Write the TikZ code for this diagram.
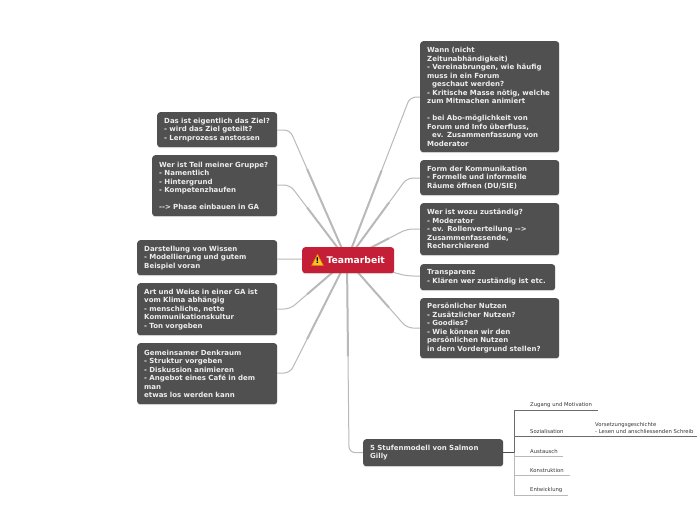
\documentclass[tikz,border=0pt]{standalone}
\usepackage{fontspec}
\setmainfont{DejaVu Sans}
\usetikzlibrary{backgrounds,shadows,calc}
\definecolor{cardgray}{HTML}{505050}
\definecolor{teamred}{HTML}{C41F36}
\definecolor{linkgray}{HTML}{B9B9B9}
\definecolor{warnyellow}{HTML}{F7C52B}
\begin{document}
\begin{tikzpicture}[x=1pt,y=-1pt,
  font=\fontsize{7}{8.5}\selectfont\bfseries,
  card/.style={rectangle, fill=cardgray, text=white!93!black, rounded corners=3pt, anchor=north west, align=left, inner xsep=7pt, inner ysep=0pt, text width=#1, drop shadow={opacity=0.22, shadow xshift=0pt, shadow yshift=-1pt}},
  team/.style={rectangle, fill=teamred, text=white, rounded corners=3pt, minimum width=92pt, minimum height=26pt, anchor=north west, font=\fontsize{9.2}{10}\selectfont\bfseries, drop shadow={opacity=0.22, shadow xshift=0pt, shadow yshift=-1pt}},
  leaf/.style={anchor=south west, inner xsep=0pt, inner ysep=2.2pt, align=left, text width=#1, text=black!80, font=\fontsize{5.3}{7.2}\selectfont},
  hubline/.style={draw=linkgray, line width=2pt},
  link/.style={draw=linkgray, line width=1pt, rounded corners=6pt},
  rule/.style={draw=gray!85!black, line width=0.7pt}
]
\useasboundingbox (0,0) rectangle (697,520);
% right side
\node[card=125pt, minimum height=111pt] (wann) at (420,41) {Wann (nicht\\Zeitunabhändigkeit)\\- Vereinabrungen, wie häufig\\muss in ein Forum\\\hspace*{5pt}geschaut werden?\\- Kritische Masse nötig, welche\\zum Mitmachen animiert\\\mbox{}\\- bei Abo-möglichkeit von\\Forum und Info überfluss,\\\hspace*{5pt}ev. Zusammenfassung von\\Moderator};
\node[card=125pt, minimum height=35pt] (form) at (420,160) {Form der Kommunikation\\- Formelle und informelle\\Räume öffnen (DU/SIE)};
\node[card=125pt, minimum height=52pt] (wozu) at (420,203) {Wer ist wozu zuständig?\\- Moderator\\- ev. Rollenverteilung -{}->\\Zusammenfassende,\\Recherchierend};
\node[card=121pt, minimum height=26pt] (transparenz) at (420,264) {Transparenz\\- Klären wer zuständig ist etc.};
\node[card=125pt, minimum height=60pt] (nutzen) at (420,298) {Persönlicher Nutzen\\- Zusätzlicher Nutzen?\\- Goodies?\\- Wie können wir den\\persönlichen Nutzen\\in dern Vordergrund stellen?};
% left side
\node[card=106pt, minimum height=35pt] (ziel) at (157,112) {Das ist eigentlich das Ziel?\\- wird das Ziel geteilt?\\- Lernprozess anstossen};
\node[card=111pt, minimum height=61pt] (gruppe) at (152,155) {Wer ist Teil meiner Gruppe?\\- Namentlich\\- Hintergrund\\- Kompetenzhaufen\\\mbox{}\\-{}-> Phase einbauen in GA};
\node[card=126pt, minimum height=35pt] (wissen) at (137,240) {Darstellung von Wissen\\- Modellierung und gutem\\Beispiel voran};
\node[card=126pt, minimum height=52pt] (klima) at (137,283) {Art und Weise in einer GA ist\\vom Klima abhängig\\- menschliche, nette\\Kommunikationskultur\\- Ton vorgeben};
\node[card=126pt, minimum height=61pt] (denkraum) at (137,343) {Gemeinsamer Denkraum\\- Struktur vorgeben\\- Diskussion animieren\\- Angebot eines Café in dem\\man\\etwas los werden kann};
% center and bottom
\node[team] (teamarbeit) at (302,247) {\hspace*{15pt}Teamarbeit};
\node[card=126pt, minimum height=27pt] (stufen) at (363,439) {5 Stufenmodell von Salmon\\Gilly};
\fill[warnyellow, draw=orange!90!black, line width=0.5pt, line join=round] ($(teamarbeit.west)+(15.5,-6)$) -- ($(teamarbeit.west)+(21.5,5.5)$) -- ($(teamarbeit.west)+(9.5,5.5)$) -- cycle;
\node[inner sep=0pt, text=black, font=\fontsize{8}{8}\selectfont\bfseries] (warnmark) at ($(teamarbeit.west)+(15.5,0.8)$) {!};
% leaves
\node[leaf=68pt] (zugang) at (530,410) {Zugang und Motivation};
\node[leaf=65pt] (sozial) at (530,436) {Sozialisation};
\node[leaf=102pt] (vorsetzung) at (595,436) {Vorsetzungsgeschichte\\- Lesen und anschliessenden Schreib};
\node[leaf=33pt] (austausch) at (530,456) {Austausch};
\node[leaf=40pt] (konstruktion) at (530,475) {Konstruktion};
\node[leaf=38pt] (entwicklung) at (530,495) {Entwicklung};
\coordinate (hub) at (347,260);
\coordinate (spine) at (514,452.5);
\coordinate (wannbend) at (410,97);
\coordinate (formbend) at (407,178);
\coordinate (wozubend) at (407,229);
\coordinate (transbend) at (407,276);
\coordinate (nutzenbend) at (407,328);
\coordinate (zielbend) at (290,130);
\coordinate (gruppebend) at (290,185);
\coordinate (wissenbend) at (290,259);
\coordinate (klimabend) at (290,309);
\coordinate (denkbend) at (290,373);
\coordinate (stufenbend) at (349,452.5);
\begin{scope}[on background layer]
\draw[link] (hub) -- (wannbend) -- (wann.west |- wannbend);
\draw[link] (hub) -- (formbend) -- (form.west |- formbend);
\draw[link] (hub) -- (wozubend) -- (wozu.west |- wozubend);
\draw[link] (hub) -- (transbend) -- (transparenz.west |- transbend);
\draw[link] (hub) -- (nutzenbend) -- (nutzen.west |- nutzenbend);
\draw[link] (hub) -- (zielbend) -- (ziel.east |- zielbend);
\draw[link] (hub) -- (gruppebend) -- (gruppe.east |- gruppebend);
\draw[link] (hub) -- (wissenbend) -- (wissen.east |- wissenbend);
\draw[link] (hub) -- (klimabend) -- (klima.east |- klimabend);
\draw[link] (hub) -- (denkbend) -- (denkraum.east |- denkbend);
\draw[link] (hub) -- (stufenbend) -- (stufen.west |- stufenbend);
% thick part near the center
\draw[hubline] (hub) -- ($(hub)!0.7!(zielbend)$);
\draw[hubline] (hub) -- ($(hub)!0.7!(gruppebend)$);
\draw[hubline] (hub) -- ($(hub)!0.55!(wannbend)$);
\draw[hubline] (hub) -- ($(hub)!0.7!(formbend)$);
\draw[hubline] (hub) -- ($(hub)!0.7!(wozubend)$);
\draw[hubline] (hub) -- ($(hub)!0.7!(transbend)$);
\draw[hubline] (hub) -- ($(hub)!0.7!(nutzenbend)$);
\draw[hubline] (hub) -- ($(hub)!0.7!(wissenbend)$);
\draw[hubline] (hub) -- ($(hub)!0.7!(klimabend)$);
\draw[hubline] (hub) -- ($(hub)!0.7!(denkbend)$);
\draw[hubline] (hub) -- ($(hub)!0.5!(stufenbend)$);
\end{scope}
\draw[rule, line width=1.2pt, black!70] (stufen.east |- spine) -- (spine);
\draw[rule] (spine) |- (zugang.south east);
\draw[rule] (spine) |- (sozial.south east);
\draw[rule] (sozial.south east) -- (vorsetzung.south east);
\draw[rule, linkgray] (spine) |- (austausch.south east);
\draw[rule, linkgray] (spine) |- (konstruktion.south east);
\draw[rule, linkgray] (spine) |- (entwicklung.south east);
\end{tikzpicture}
\end{document}
